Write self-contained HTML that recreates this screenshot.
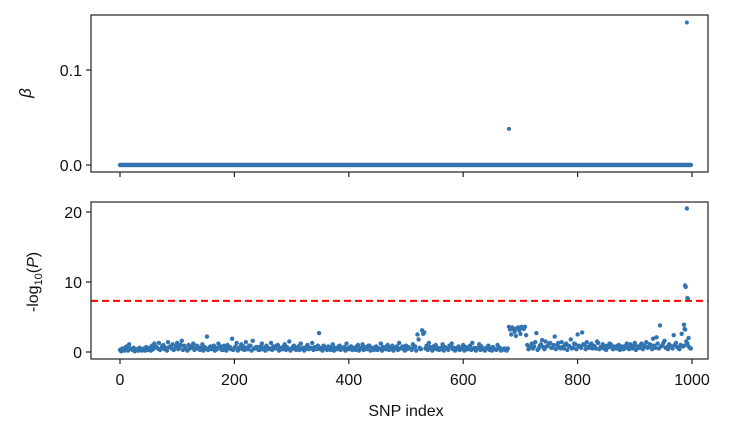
<!DOCTYPE html>
<html><head><meta charset="utf-8">
<style>
body{margin:0;background:#fff;}
svg{display:block;font-family:"Liberation Sans",Arial,sans-serif;}
</style></head>
<body>
<svg id="chart" width="735" height="435" viewBox="0 0 735 435" xmlns="http://www.w3.org/2000/svg"></svg>
<script>
// ---- data ----
const snpStep = 4;
const logP = [
0.3,0.5,0.2,0.8,1.1,0.4,0.6,0.3,0.2,0.5,
0.4,0.2,0.3,0.6,0.9,1.2,0.7,1.3,0.5,1.0,
0.6,1.4,0.8,1.1,0.5,1.3,0.7,1.6,0.9,0.4,
1.0,0.6,1.2,0.5,0.8,0.3,1.1,0.7,2.2,0.6,
0.4,0.9,0.6,1.2,0.8,0.3,0.5,1.0,0.7,1.9,
0.6,1.3,0.5,1.1,0.8,1.4,0.4,0.9,1.6,0.5,
0.7,0.3,1.2,0.6,0.9,0.4,1.3,0.8,0.5,1.0,
0.6,0.4,1.1,0.7,1.5,0.5,0.9,0.3,0.8,1.2,
0.6,0.4,1.0,0.5,1.3,0.7,0.4,2.7,0.6,0.9,
0.5,0.8,0.3,1.1,0.6,0.4,0.9,0.5,0.7,1.2,
0.4,0.8,0.6,0.3,1.0,0.5,1.1,0.7,0.4,0.9,
0.6,0.3,0.8,0.5,1.2,0.7,0.4,1.0,0.6,0.9,
0.5,0.8,1.3,0.6,0.4,0.9,0.7,0.5,1.1,0.8,
2.5,0.6,3.1,2.8,0.9,1.3,0.5,0.8,1.0,0.6,
0.4,1.1,0.7,0.5,0.9,1.2,0.6,0.4,0.8,0.5,
1.0,0.7,0.4,0.9,1.3,0.6,0.5,1.1,0.8,0.4,
0.6,0.9,0.5,0.7,0.4,1.0,0.6,0.3,0.5,0.2,
3.6,2.5,3.3,2.3,3.5,2.6,3.4,3.6,1.0,0.6,
1.2,0.8,2.7,0.5,1.1,0.7,1.5,0.9,1.3,0.6,
2.2,1.0,0.7,1.4,0.5,1.2,0.9,1.8,0.6,1.1,
2.5,0.8,2.8,1.0,1.4,0.6,1.2,0.9,0.5,1.3,
0.7,1.1,0.4,0.9,1.2,0.6,0.8,0.5,1.0,0.7,
0.4,0.9,0.6,1.1,0.5,1.3,0.8,0.6,1.2,0.9,
1.4,0.7,1.0,1.9,0.6,1.2,3.8,0.9,1.6,0.7,
1.1,0.8,2.4,1.3,0.6,1.0,0.8,3.2,1.2,0.6
];
const logP2 = [
0.1,0.4,0.7,0.2,0.5,0.3,0.1,0.4,0.6,0.2,
0.5,0.7,0.3,0.2,0.4,0.8,0.5,0.3,0.9,0.4,
0.2,0.7,0.5,0.3,0.9,0.4,1.0,0.3,0.6,0.2,
0.5,0.8,0.3,0.9,0.4,0.6,0.2,0.5,0.3,0.8,
0.6,0.2,0.4,0.7,0.3,0.9,0.2,0.6,0.4,0.3,
0.8,0.2,0.7,0.4,0.3,0.6,0.9,0.2,0.5,0.7,
0.3,0.8,0.4,0.2,0.6,0.5,0.3,0.7,0.9,0.2,
0.4,0.8,0.3,0.5,0.2,0.7,0.4,0.6,0.3,0.5,
0.2,0.8,0.4,0.6,0.3,0.5,0.9,0.4,0.2,0.6,
0.3,0.5,0.7,0.2,0.4,0.8,0.3,0.6,0.2,0.5,
0.7,0.3,0.4,0.8,0.2,0.6,0.3,0.5,0.9,0.2,
0.4,0.7,0.3,0.5,0.2,0.6,0.8,0.3,0.4,0.2,
0.6,0.3,0.5,0.8,0.2,0.4,0.6,0.3,0.7,0.2,
1.8,0.4,2.6,0.5,0.3,0.7,0.2,0.5,0.4,0.3,
0.6,0.2,0.5,0.3,0.8,0.4,0.2,0.6,0.3,0.5,
0.2,0.4,0.7,0.3,0.5,0.2,0.6,0.3,0.4,0.2,
0.5,0.3,0.2,0.4,0.3,0.6,0.2,0.4,0.3,0.5,
3.2,3.5,2.9,3.4,3.1,3.6,3.3,2.4,0.4,0.8,
0.5,1.4,0.3,0.9,1.7,0.4,0.8,1.2,0.6,1.0,
0.4,1.3,0.5,0.7,1.0,0.3,0.8,0.5,1.2,0.4,
0.9,0.6,1.1,0.4,0.7,1.0,0.5,0.8,1.5,0.4,
0.6,0.9,0.3,0.7,1.1,0.4,0.6,0.9,0.3,0.8,
0.5,1.2,0.4,0.7,0.9,0.3,0.6,1.0,0.4,0.8,
0.6,1.1,0.4,0.9,2.1,0.5,0.8,1.3,0.6,0.4,
0.9,0.5,1.0,0.7,0.4,2.6,0.9,1.5,0.8,0.5
];
const peakIdx = [986, 987, 988, 989, 991, 992, 993, 994];
const peakLogP = [3.9, 3.3, 9.5, 9.3, 20.5, 7.7, 7.6, 2.0];
const betaIdx = [680, 991];
const betaVal = [0.038, 0.150];
const xTicks = [0, 200, 400, 600, 800, 1000];
const betaTicks = [0.0, 0.1];
const betaTickLabels = ["0.0", "0.1"];
const pTicks = [0, 10, 20];
const threshold = 7.3;

// ---- axes ----
const X0 = 91, X1 = 708;
const xS = v => 120 + v * (692 - 120) / 1000;
const topY0 = 15, topY1 = 172;
const yB = v => 165 - v * 950;
const botY0 = 202, botY1 = 359;
const yP = v => 352 - v * 7;
const blue = "#3274b0";
const R = 2.2;
const svg = document.getElementById('chart');
const NS = "http://www.w3.org/2000/svg";
function mk(tag, attrs, parent) {
  const e = document.createElementNS(NS, tag);
  for (const k in attrs) e.setAttribute(k, attrs[k]);
  (parent || svg).appendChild(e);
  return e;
}
function txt(s, x, y, anchor, size, parent) {
  const t = mk('text', {x: x, y: y, 'text-anchor': anchor, 'font-size': size || 15, fill: '#111'}, parent);
  t.textContent = s;
  return t;
}

// top panel
const gTop = mk('g', {});


const nSnp = logP.length * snpStep;
for (let i = 0; i < nSnp; i += 2) {
  let v = 0;
  const c = mk('circle', {cx: xS(i), cy: yB(v), r: R, fill: blue}, gTop);
  
  
}
betaIdx.forEach((ix, k) => {
  const c = mk('circle', {cx: xS(ix), cy: yB(betaVal[k]), r: 2, fill: blue}, gTop);
  
  
});
const frameT = mk('rect', {x: X0, y: topY0, width: X1 - X0, height: topY1 - topY0, fill: 'none', stroke: '#222', 'stroke-width': 1.2}, gTop);


betaTicks.forEach((v, k) => {
  mk('line', {x1: X0 - 5, x2: X0, y1: yB(v), y2: yB(v), stroke: '#222', 'stroke-width': 1.2}, gTop);
  const t = txt(betaTickLabels[k], X0 - 9, yB(v) + 6, 'end', 16, gTop);
  
  
});
xTicks.forEach(v => {
  mk('line', {x1: xS(v), x2: xS(v), y1: topY1, y2: topY1 + 5, stroke: '#222', 'stroke-width': 1.2}, gTop);
});
const by = txt('β', 0, 0, 'middle', 17, gTop);
by.setAttribute('transform', 'translate(31,93) rotate(-90)');
by.setAttribute('font-style', 'italic');



// bottom panel
const gBot = mk('g', {});


logP.forEach((v, k) => {
  const c = mk('circle', {cx: xS(k * snpStep), cy: yP(v), r: R, fill: blue}, gBot);
  
  
});
logP2.forEach((v, k) => {
  const c = mk('circle', {cx: xS(k * snpStep + 2), cy: yP(v), r: R, fill: blue}, gBot);
  
  
});
peakIdx.forEach((ix, k) => {
  const c = mk('circle', {cx: xS(ix), cy: yP(peakLogP[k]), r: R, fill: blue}, gBot);
  
  
});
const th = mk('line', {x1: X0, x2: X1, y1: yP(threshold), y2: yP(threshold), stroke: '#ff0000', 'stroke-width': 2, 'stroke-dasharray': '7,4'}, gBot);


const frameB = mk('rect', {x: X0, y: botY0, width: X1 - X0, height: botY1 - botY0, fill: 'none', stroke: '#222', 'stroke-width': 1.2}, gBot);


pTicks.forEach(v => {
  mk('line', {x1: X0 - 5, x2: X0, y1: yP(v), y2: yP(v), stroke: '#222', 'stroke-width': 1.2}, gBot);
  const t = txt(String(v), X0 - 9, yP(v) + 6, 'end', 16, gBot);
  
  
});
xTicks.forEach(v => {
  mk('line', {x1: xS(v), x2: xS(v), y1: botY1, y2: botY1 + 5, stroke: '#222', 'stroke-width': 1.2}, gBot);
  const t = txt(String(v), xS(v), botY1 + 26, 'middle', 16, gBot);
  
  
});
const py = mk('text', {transform: 'translate(38,282) rotate(-90)', 'text-anchor': 'middle', 'font-size': 16, fill: '#111'}, gBot);
py.innerHTML = '-log<tspan font-size="11" dy="4">10</tspan><tspan dy="-4">(</tspan><tspan font-style="italic">P</tspan>)';


const xl = txt('SNP index', xS(500), 416, 'middle', 16, gBot);


</script>
</body></html>
